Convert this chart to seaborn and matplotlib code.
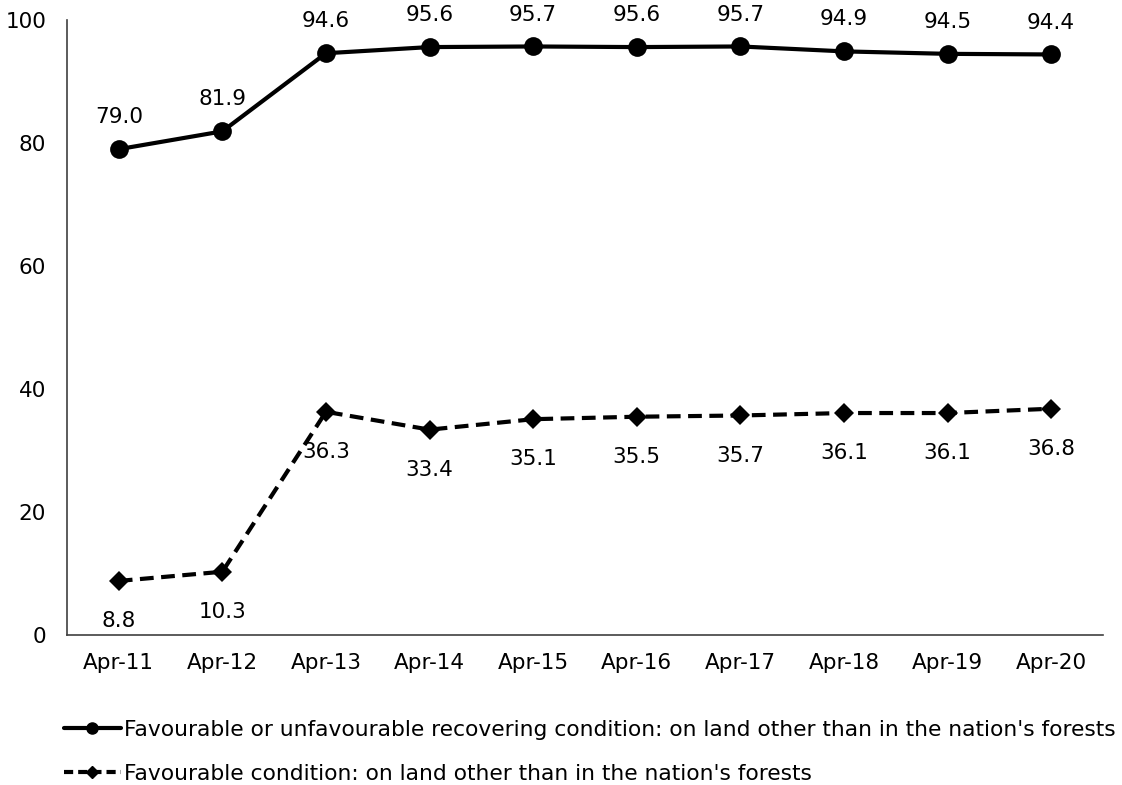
import matplotlib
matplotlib.use("Agg")
import matplotlib.pyplot as plt
from matplotlib.lines import Line2D
from matplotlib.ticker import FixedLocator
import numpy as np
import pandas as pd
import seaborn as sns

periods = ["Apr-11", "Apr-12", "Apr-13", "Apr-14", "Apr-15",
           "Apr-16", "Apr-17", "Apr-18", "Apr-19", "Apr-20"]
favourable_or_recovering = [79.0, 81.9, 94.6, 95.6, 95.7, 95.6, 95.7, 94.9, 94.5, 94.4]
favourable = [8.8, 10.3, 36.3, 33.4, 35.1, 35.5, 35.7, 36.1, 36.1, 36.8]
label_recovering = "Favourable or unfavourable recovering condition: on land other than in the nation's forests"
label_favourable = "Favourable condition: on land other than in the nation's forests"

sns.set_theme(style="white")
plt.rcParams["font.family"] = ["DejaVu Sans"]
plt.rcParams["text.color"] = "black"
plt.rcParams["xtick.color"] = "black"
plt.rcParams["ytick.color"] = "black"

df = pd.DataFrame({
    "pos": np.arange(len(periods)),
    "recovering": favourable_or_recovering,
    "favourable": favourable,
})

fig = plt.figure(figsize=(11.22, 7.85), dpi=100)
ax = fig.add_axes([0.0597, 0.191, 0.9233, 0.7835])

sns.lineplot(data=df, x="pos", y="recovering", ax=ax, color="black",
             linewidth=3, marker="o", markersize=13.5, markeredgewidth=0)
sns.lineplot(data=df, x="pos", y="favourable", ax=ax, color="black",
             linewidth=3, marker="D", markersize=10, markeredgewidth=0,
             dashes=False)
ax.lines[-1].set_dashes([3.3, 1.8])

fs = 15.5
for i, v in enumerate(favourable_or_recovering):
    ax.annotate(f"{v:.1f}", (i, v), xytext=(0, 23), textcoords="offset points",
                ha="center", va="center", fontsize=fs, color="black")
for i, v in enumerate(favourable):
    ax.annotate(f"{v:.1f}", (i, v), xytext=(0, -29), textcoords="offset points",
                ha="center", va="center", fontsize=fs, color="black")

ax.set_xlim(-0.5, len(periods) - 0.5)
ax.set_ylim(0, 100)
ax.set_yticks([0, 20, 40, 60, 80, 100])
ax.set_xticks(np.arange(len(periods)))
ax.set_xticklabels(periods)
ax.xaxis.set_minor_locator(FixedLocator(np.arange(-0.5, len(periods), 1.0)))
ax.tick_params(axis="x", which="major", length=0, pad=13, labelsize=fs)
ax.tick_params(axis="x", which="minor", length=6, width=1, color="#404040", direction="in")
ax.tick_params(axis="y", which="major", length=6, width=1, color="#404040",
               direction="out", pad=9, labelsize=fs)
ax.set_xlabel("")
ax.set_ylabel("")
for s in ["top", "right"]:
    ax.spines[s].set_visible(False)
for s in ["left", "bottom"]:
    ax.spines[s].set_color("#404040")
    ax.spines[s].set_linewidth(1.2)

handles = [
    Line2D([], [], color="black", linewidth=3, marker="o", markersize=8),
    Line2D([], [], color="black", linewidth=3, marker="D", markersize=6,
           dashes=[2.2, 1.2]),
]
fig.legend(handles, [label_recovering, label_favourable], loc="upper left",
           bbox_to_anchor=(0.057, 0.083), frameon=False, fontsize=15.7,
           handlelength=2.6, handletextpad=0.15, labelspacing=1.1,
           borderaxespad=0, borderpad=0)

fig.savefig("out.png", dpi=100, facecolor="white")
